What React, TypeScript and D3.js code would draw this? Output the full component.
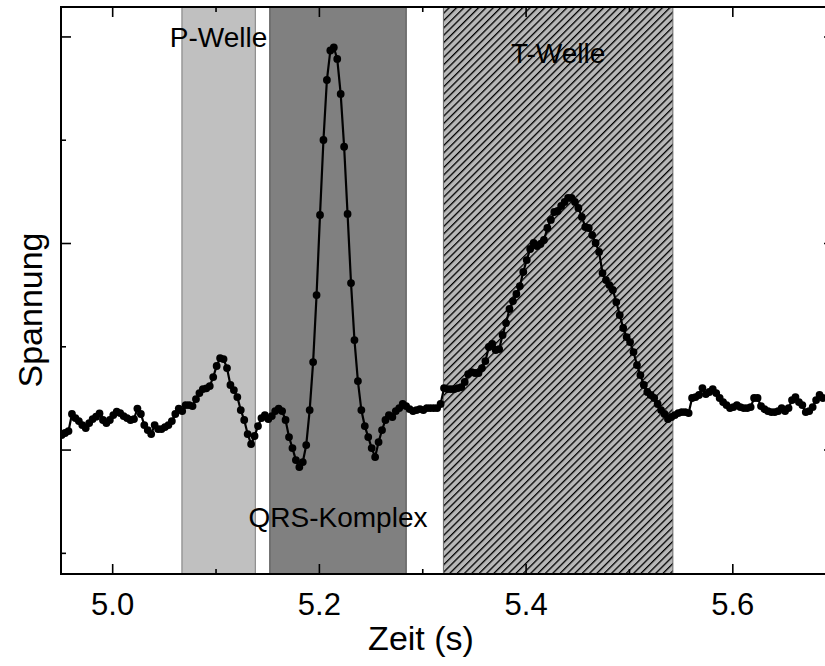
import React from "react";
import * as d3 from "d3";

// ECG samples (arbitrary units), uniformly sampled
const startTime = 4.9506; // s
const sampleRate = 300; // Hz
const voltage: number[] = [
  14.5, 16.5, 18.4, 34.9, 31.0, 28.1, 24.2, 21.3, 26.1, 30.0,
  32.3, 35.5, 29.1, 26.1, 29.1, 33.9, 37.1, 35.8, 32.9, 31.0,
  29.1, 30.0, 40.2, 34.9, 24.2, 19.4, 15.5, 24.2, 20.3, 20.3,
  22.3, 24.2, 28.1, 34.9, 40.2, 37.8, 43.6, 43.6, 42.6, 49.4,
  55.2, 59.1, 59.8, 62.0, 70.7, 81.4, 89.1, 88.1, 79.4, 63.0,
  58.1, 51.3, 38.7, 29.1, 15.5, 5.8, 13.6, 23.2, 31.0, 33.9,
  30.0, 32.9, 37.8, 40.2, 37.8, 29.1, 12.6, 1.9, -9.7, -16.5,
  -11.6, 4.8, 38.7, 85.2, 150.1, 227.6, 300.2, 358.3, 386.9, 389.9,
  378.7, 344.8, 293.7, 228.6, 161.7, 106.5, 66.8, 38.7, 23.2, 12.6,
  1.9, -6.8, 7.7, 19.4, 29.1, 33.9, 32.0, 37.8, 40.7, 44.6,
  42.6, 39.7, 37.8, 38.7, 39.7, 38.7, 40.7, 40.7, 40.7, 40.7,
  44.6, 60.0, 59.1, 59.1, 59.1, 60.0, 61.0, 65.9, 73.6, 75.5,
  74.6, 74.6, 79.4, 86.2, 99.8, 102.7, 96.9, 97.8, 111.4, 123.0,
  136.6, 144.3, 151.1, 158.8, 172.4, 184.0, 194.7, 200.5, 197.6, 199.5,
  203.4, 215.0, 222.8, 230.5, 231.5, 236.3, 240.2, 244.1, 244.1, 240.2,
  234.4, 225.7, 216.0, 215.0, 208.2, 200.5, 191.8, 171.4, 164.6, 159.8,
  155.0, 143.3, 130.7, 118.2, 109.4, 104.6, 94.9, 82.3, 72.6, 63.0,
  56.2, 53.3, 50.4, 44.6, 38.7, 34.9, 30.0, 32.0, 33.9, 35.8,
  36.8, 36.8, 35.8, 50.4, 51.3, 53.3, 60.0, 54.2, 56.2, 59.1,
  55.2, 50.4, 46.5, 43.6, 40.7, 41.6, 43.6, 41.6, 40.7, 40.7,
  41.6, 50.4, 50.4, 42.6, 39.7, 37.8, 36.8, 36.8, 37.8, 40.7,
  37.8, 40.7, 48.4, 51.3, 46.5, 43.6, 36.8, 37.8, 41.6, 48.4,
  53.3, 50.4,
];

// Wave regions (s)
const regionNames = ["P-Welle", "QRS-Komplex", "T-Welle"];
const regionStart = [5.067, 5.152, 5.32];
const regionEnd = [5.138, 5.284, 5.542];

const xMajorTicks = [5.0, 5.2, 5.4, 5.6];
const xMinorTicks = [5.1, 5.3, 5.5];
const yMajorTicks = [0, 200, 400];
const yMinorTicks = [-100, 100, 300];
const xTickLabels = ["5.0", "5.2", "5.4", "5.6"];

const W = 825;
const H = 666;
const left = 61;
const rightEdge = 834;
const top = 7;
const bottom = 574;
const FONT = "'Liberation Sans', Arial, sans-serif";

export default function App() {
  const x = d3.scaleLinear().domain([4.95, 5.6979]).range([left, rightEdge]);
  const y = d3.scaleLinear().domain([-120, 429]).range([bottom, top]);

  const data = voltage.map((v, i) => ({ t: startTime + i / sampleRate, v }));
  const line = d3
    .line<{ t: number; v: number }>()
    .x((d) => x(d.t))
    .y((d) => y(d.v));

  const regionFill = ["#c0c0c0", "#808080", "url(#hatch)"];
  const regionStroke = ["#7a7a7a", "#4a4a4a", "#6a6a6a"];
  const labelY = [47, 527, 63];

  const major = 10;
  const minor = 5;

  return (
    <svg
      width={W}
      height={H}
      style={{ position: "absolute", left: 0, top: 0, background: "#fff" }}
    >
      <defs>
        <pattern
          id="hatch"
          patternUnits="userSpaceOnUse"
          width={5.2}
          height={5.2}
          patternTransform="rotate(45)"
        >
          <rect width={5.2} height={5.2} fill="#b8b8b8" />
          <line x1={0} y1={0} x2={0} y2={5.2} stroke="#000" strokeWidth={2.6} />
        </pattern>
        <clipPath id="plot">
          <rect x={left} y={top} width={rightEdge - left} height={bottom - top} />
        </clipPath>
      </defs>

      {regionNames.map((n, i) => (
        <rect
          key={n}
          x={x(regionStart[i])}
          y={top}
          width={x(regionEnd[i]) - x(regionStart[i])}
          height={bottom - top}
          fill={regionFill[i]}
          stroke={regionStroke[i]}
          strokeWidth={1}
        />
      ))}

      {/* ticks */}
      <g stroke="#000" strokeWidth={1.6}>
        {xMajorTicks.map((t) => (
          <g key={"xM" + t}>
            <line x1={x(t)} x2={x(t)} y1={bottom} y2={bottom - major} />
            <line x1={x(t)} x2={x(t)} y1={top} y2={top + major} />
          </g>
        ))}
        {xMinorTicks.map((t) => (
          <g key={"xm" + t}>
            <line x1={x(t)} x2={x(t)} y1={bottom} y2={bottom - minor} />
            <line x1={x(t)} x2={x(t)} y1={top} y2={top + minor} />
          </g>
        ))}
        {yMajorTicks.map((t) => (
          <g key={"yM" + t}>
            <line x1={left} x2={left + major} y1={y(t)} y2={y(t)} />
            <line x1={rightEdge} x2={rightEdge - major} y1={y(t)} y2={y(t)} />
          </g>
        ))}
        {yMinorTicks.map((t) => (
          <g key={"ym" + t}>
            <line x1={left} x2={left + minor} y1={y(t)} y2={y(t)} />
            <line x1={rightEdge} x2={rightEdge - minor} y1={y(t)} y2={y(t)} />
          </g>
        ))}
      </g>

      <rect
        x={left}
        y={top}
        width={rightEdge - left}
        height={bottom - top}
        fill="none"
        stroke="#000"
        strokeWidth={2}
      />

      <g clipPath="url(#plot)">
        <path d={line(data) || ""} fill="none" stroke="#000" strokeWidth={2.2} />
        {data.map((d, i) => (
          <circle key={i} cx={x(d.t)} cy={y(d.v)} r={3.9} fill="#000" />
        ))}
      </g>

      {regionNames.map((n, i) => (
        <text
          key={"l" + n}
          x={(x(regionStart[i]) + x(regionEnd[i])) / 2}
          y={labelY[i]}
          textAnchor="middle"
          fontFamily={FONT}
          fontSize={28}
          fill="#000"
        >
          {n}
        </text>
      ))}

      {xMajorTicks.map((t, i) => (
        <text
          key={"tl" + t}
          x={x(t)}
          y={615}
          textAnchor="middle"
          fontFamily={FONT}
          fontSize={31}
          fill="#000"
        >
          {xTickLabels[i]}
        </text>
      ))}

      <text
        x={(left + W) / 2 - 22}
        y={650}
        textAnchor="middle"
        fontFamily={FONT}
        fontSize={34}
        fill="#000"
      >
        Zeit (s)
      </text>
      <text
        transform={`translate(42, 310) rotate(-90)`}
        textAnchor="middle"
        fontFamily={FONT}
        fontSize={34}
        fill="#000"
      >
        Spannung
      </text>
    </svg>
  );
}
